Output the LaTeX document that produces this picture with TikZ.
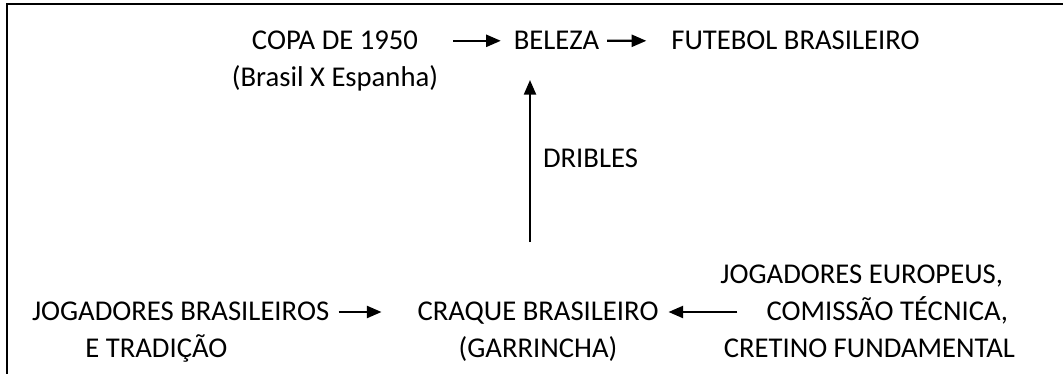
\documentclass[tikz,border=0pt]{standalone}
\usepackage{fontspec}
\setmainfont{Carlito}
\usetikzlibrary{arrows.meta,calc}
\begin{document}
\begin{tikzpicture}[x=0.75pt,y=-0.75pt,
  lbl/.style={inner sep=0pt,outer sep=0pt,font=\fontsize{21.5}{27.75}\selectfont},
  arr/.style={line width=1.7pt,-{Triangle[length=11pt,width=9pt]}},
  frame/.style={line width=1.6pt}]
\useasboundingbox (0,0) rectangle (1063,374);
\setlength{\tabcolsep}{0pt}
% frame
\draw[frame] (7,374) -- (7,4) -- (1063,4);
% nodes
\node[lbl,anchor=base] (copa) at (335,50) {\begin{tabular}[t]{c}COPA DE 1950\\(Brasil X Espanha)\end{tabular}};
\node[lbl,anchor=base] (beleza) at (556.5,50) {BELEZA};
\node[lbl,anchor=base] (futebol) at (795.5,50) {FUTEBOL BRASILEIRO};
\node[lbl,anchor=base west] (dribles) at (543,167) {DRIBLES};
\node[lbl,anchor=base] (craque) at (538,320) {\begin{tabular}[t]{c}CRAQUE BRASILEIRO\\(GARRINCHA)\end{tabular}};
\node[lbl,anchor=base west] (jogbr) at (32,320) {\begin{tabular}[t]{l}JOGADORES BRASILEIROS\\\hspace*{40pt}E TRADIÇÃO\end{tabular}};
\node[lbl,anchor=base east] (europe) at (1015,283) {\begin{tabular}[t]{r}JOGADORES EUROPEUS,\hspace*{9pt}\\COMISSÃO TÉCNICA,\hspace*{5.25pt}\\CRETINO FUNDAMENTAL\end{tabular}};
% helper coordinates
\coordinate (crW) at ([yshift=6pt]craque.base west);
\coordinate (crE) at ([yshift=6pt]craque.base east);
\coordinate (crN) at ([xshift=-6pt]craque.north);
% connectors
\draw[arr,shorten <=11.25pt,shorten >=9.75pt] (copa.east |- beleza.center) -- (beleza.west);
\draw[arr,shorten <=6pt,shorten >=18.75pt] (beleza.east) -- (futebol.west);
\draw[arr,shorten <=39pt,shorten >=22.5pt] (crN) -- (crN |- beleza.south);
\draw[arr,shorten <=7pt,shorten >=27pt] (jogbr.east |- crW) -- (crW);
\draw[arr,shorten <=-12.75pt,shorten >=7.5pt] (europe.west |- crE) -- (crE);
\end{tikzpicture}
\end{document}
